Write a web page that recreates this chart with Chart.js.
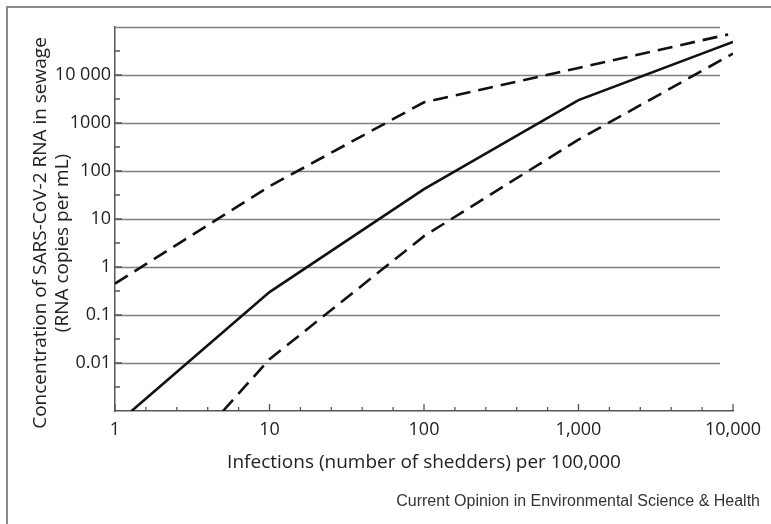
<!DOCTYPE html>
<html>
<head>
<meta charset="utf-8">
<script src="https://cdn.jsdelivr.net/npm/chart.js@4.4.0/dist/chart.umd.min.js"></script>
<style>
    html, body { margin: 0; padding: 0; background: #fff; }
    #wrap { position: relative; width: 771px; height: 524px; overflow: hidden; }
    #frame { position: absolute; left: 6px; top: 6px; width: 800px; height: 600px;
             border-left: 2px solid #8a8a8a; border-top: 2px solid #8a8a8a; }
    #chart { position: absolute; left: 0; top: 0; }
</style>
</head>
<body>
<div id="wrap">
    <div id="frame"></div>
    <canvas id="chart" width="771" height="524"></canvas>
</div>
<script>
// values
const upperX = [1, 10, 100, 1000, 9300];
const upperY = [0.45, 48, 2700, 14000, 70000];
const medianX = [1.28, 10, 100, 1000, 10000];
const medianY = [0.001, 0.3, 42, 3000, 49000];
const lowerX = [5, 10, 100, 1000, 10000];
const lowerY = [0.001, 0.012, 4.4, 450, 28000];

const xTicks = [1, 10, 100, 1000, 10000];
const xTickLabels = ["1", "10", "100", "1,000", "10,000"];
const yTicks = [0.001, 0.01, 0.1, 1, 10, 100, 1000, 10000, 100000];
const yTickLabels = ["", "0.01", "0.1", "1", "10", "100", "1000", "10 000", ""];

const yTitle = ["Concentration of SARS-CoV-2 RNA in sewage", "(RNA copies per mL)"];
const xTitle = "Infections (number of shedders) per 100,000";
const footer = "Current Opinion in Environmental Science & Health";

const FONT = "'Open Sans', 'Noto Sans', sans-serif";

function toPoints(xs, ys) {
    return xs.map((x, i) => ({ x: x, y: ys[i] }));
}

// grid lines (stop a little short of the right end), inward ticks, titles
const figureExtras = {
    id: "figureExtras",
    beforeDatasetsDraw(chart) {
        const ctx = chart.ctx;
        const ys = chart.scales.y;
        const area = chart.chartArea;
        ctx.save();
        ctx.strokeStyle = "#808080";
        ctx.lineWidth = 1.5;
        ctx.beginPath();
        yTicks.slice(1).forEach(v => {
            const py = Math.round(ys.getPixelForValue(v)) + 0.5;
            ctx.moveTo(area.left, py);
            ctx.lineTo(area.right - 13, py);
        });
        ctx.stroke();
        ctx.restore();
    },
    afterDatasetsDraw(chart) {
        const ctx = chart.ctx;
        const xs = chart.scales.x;
        const ys = chart.scales.y;
        const area = chart.chartArea;
        ctx.save();
        ctx.strokeStyle = "#555";
        ctx.lineWidth = 1.3;
        ctx.beginPath();
        xTicks.forEach((v, i) => {
            const px = xs.getPixelForValue(v);
            ctx.moveTo(px, area.bottom);
            ctx.lineTo(px, area.bottom - 7);
            if (i < xTicks.length - 1) {
                [0.2, 0.4, 0.6, 0.8].forEach(f => {
                    const mx = xs.getPixelForValue(v * Math.pow(10, f));
                    ctx.moveTo(mx, area.bottom);
                    ctx.lineTo(mx, area.bottom - 4);
                });
            }
        });
        yTicks.forEach((v, i) => {
            const py = ys.getPixelForValue(v);
            if (yTickLabels[i] !== "") {
                ctx.moveTo(area.left, py);
                ctx.lineTo(area.left + 7, py);
            }
            if (i < yTicks.length - 1) {
                const my = ys.getPixelForValue(v * Math.sqrt(10));
                ctx.moveTo(area.left, my);
                ctx.lineTo(area.left + 5, my);
            }
        });
        ctx.stroke();
        ctx.restore();
    },
    afterDraw(chart) {
        const ctx = chart.ctx;
        ctx.save();
        ctx.fillStyle = "#222";
        ctx.textAlign = "center";
        ctx.textBaseline = "middle";
        ctx.font = "19px " + FONT;
        ctx.translate(41, 0);
        ctx.rotate(-Math.PI / 2);
        ctx.fillText(yTitle[0], -233, 0);
        ctx.fillText(yTitle[1], -243, 22);
        ctx.restore();

        ctx.save();
        ctx.fillStyle = "#333";
        ctx.textAlign = "right";
        ctx.textBaseline = "alphabetic";
        ctx.font = "16px 'Liberation Sans', Arial, sans-serif";
        ctx.fillText(footer, 760, 506);
        ctx.restore();
    }
};

document.addEventListener("DOMContentLoaded", () => {
    const canvas = document.getElementById("chart");

    const lineStyle = {
        borderColor: "#111",
        borderWidth: 2.6,
        pointRadius: 0,
        showLine: true,
        tension: 0,
        fill: false
    };

    new Chart(canvas, {
        type: "scatter",
        data: {
            datasets: [
                Object.assign({ label: "upper", data: toPoints(upperX, upperY), borderDash: [15, 8] }, lineStyle),
                Object.assign({ label: "median", data: toPoints(medianX, medianY) }, lineStyle),
                Object.assign({ label: "lower", data: toPoints(lowerX, lowerY), borderDash: [15, 8] }, lineStyle)
            ]
        },
        options: {
            responsive: false,
            animation: false,
            layout: { padding: { left: 0, top: 27, right: 38, bottom: 0 } },
            plugins: {
                legend: { display: false },
                tooltip: { enabled: false }
            },
            scales: {
                x: {
                    type: "logarithmic",
                    min: 1,
                    max: 10000,
                    afterBuildTicks: scale => { scale.ticks = xTicks.map(v => ({ value: v })); },
                    afterFit: scale => { scale.height = 113; },
                    grid: { display: false, drawTicks: false },
                    border: { display: true, color: "#555", width: 1.5 },
                    ticks: {
                        color: "#222",
                        font: { family: FONT, size: 18 },
                        padding: 8,
                        maxRotation: 0,
                        autoSkip: false,
                        callback: (value) => xTickLabels[xTicks.indexOf(value)]
                    },
                    title: {
                        display: true,
                        text: xTitle,
                        color: "#222",
                        font: { family: FONT, size: 19 },
                        padding: { top: 0, bottom: 50 }
                    }
                },
                y: {
                    type: "logarithmic",
                    min: 0.001,
                    max: 100000,
                    afterBuildTicks: scale => { scale.ticks = yTicks.map(v => ({ value: v })); },
                    afterFit: scale => { scale.width = 115; },
                    grid: { display: false, drawTicks: false },
                    border: { display: true, color: "#555", width: 1.5 },
                    ticks: {
                        color: "#222",
                        font: { family: FONT, size: 18 },
                        padding: 4,
                        autoSkip: false,
                        callback: (value) => yTickLabels[yTicks.indexOf(value)]
                    }
                }
            }
        },
        plugins: [figureExtras]
    });
});
</script>
</body>
</html>
